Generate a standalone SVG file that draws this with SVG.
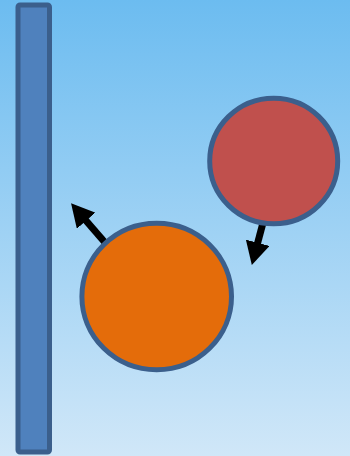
<svg xmlns="http://www.w3.org/2000/svg" width="350" height="456" viewBox="0 0 350 456">
<defs>
<linearGradient id="bg" x1="0" y1="0" x2="0" y2="1">
<stop offset="0" stop-color="#6cbcf0"/>
<stop offset="1" stop-color="#d0e7f8"/>
</linearGradient>
<marker id="ah" viewBox="0 0 23 24.5" refX="2" refY="12.25" markerWidth="23" markerHeight="24.5" markerUnits="userSpaceOnUse" orient="auto">
<path d="M0,0 L23,12.25 L0,24.5 Z" fill="#000"/>
</marker>
</defs>
<style>
.node{stroke:#3b5f8c;stroke-width:5}
.conn{stroke:#000;stroke-width:7;fill:none;marker-end:url(#ah)}
</style>
<rect width="350" height="456" fill="url(#bg)"/>
<g id="connectors">
<line class="conn" x1="108" y1="246" x2="84.8" y2="219.2"/>
<line class="conn" x1="264" y1="219" x2="257.2" y2="244.7"/>
</g>
<g id="bar">
<rect class="node" x="18" y="5" width="31.5" height="447" rx="2" fill="#4f81bd"/>
</g>
<g id="red-circle">
<ellipse class="node" cx="273.7" cy="161" rx="64" ry="62.8" fill="#c0504d"/>
</g>
<g id="orange-circle">
<ellipse class="node" cx="156.7" cy="296.5" rx="74.8" ry="73.2" fill="#e46c0a"/>
</g>
</svg>
